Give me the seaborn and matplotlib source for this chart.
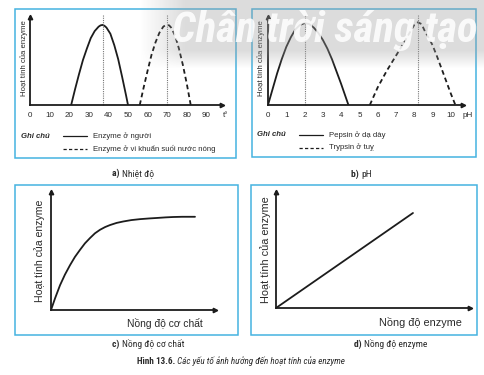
import numpy as np
import pandas as pd
import matplotlib
matplotlib.use("Agg")
import matplotlib.pyplot as plt
import seaborn as sns
from matplotlib.lines import Line2D
from matplotlib.patches import Rectangle
from matplotlib import font_manager as fm

# ---------------- data ----------------
# a) temperature
temp_human_x = [21, 23, 25, 27, 29, 31, 33, 35, 36, 37, 38, 39, 41, 43, 45, 47, 49, 50]
temp_human_y = [0, 0.18, 0.35, 0.51, 0.64, 0.76, 0.84, 0.89, 0.905, 0.91, 0.90, 0.88, 0.81, 0.68, 0.52, 0.32, 0.11, 0]
temp_hot_x = [56, 58, 60, 62, 64, 66, 68, 69, 70, 71, 72, 74, 76, 78, 80, 82]
temp_hot_y = [0, 0.20, 0.39, 0.57, 0.71, 0.82, 0.89, 0.905, 0.91, 0.905, 0.88, 0.79, 0.64, 0.455, 0.24, 0]
temp_optima = [37, 70]
temp_ticks = [0, 10, 20, 30, 40, 50, 60, 70, 80, 90]
temp_unit = "t°"
temp_legend = ["Enzyme ở người", "Enzyme ở vi khuẩn suối nước nóng"]

# b) pH
ph_pepsin_x = [0, 0.25, 0.5, 0.75, 1.0, 1.25, 1.5, 1.75, 2.0, 2.25, 2.5, 2.75, 3.0, 3.25, 3.5, 3.75, 4.0, 4.2, 4.4]
ph_pepsin_y = [0, 0.18, 0.36, 0.52, 0.66, 0.77, 0.86, 0.91, 0.93, 0.92, 0.88, 0.82, 0.74, 0.64, 0.52, 0.38, 0.24, 0.12, 0]
ph_trypsin_x = [5.57, 6.0, 6.5, 7.0, 7.5, 7.8, 8.0, 8.2, 8.4, 8.6, 8.8, 9.0, 9.25, 9.5, 9.75, 10.0, 10.25]
ph_trypsin_y = [0, 0.20, 0.39, 0.56, 0.73, 0.84, 0.91, 0.94, 0.92, 0.83, 0.76, 0.68, 0.55, 0.41, 0.27, 0.13, 0]
ph_optima = [2.0, 8.2]
ph_ticks = [0, 1, 2, 3, 4, 5, 6, 7, 8, 9, 10]
ph_unit = "pH"
ph_legend = ["Pepsin ở dạ dày", "Trypsin ở tuỵ"]

# c) substrate concentration
subs_x = [0, 2.5, 5.5, 8.5, 11.6, 14.6, 17.7, 20.7, 23.8, 26.8, 29.9, 33, 36, 40, 44, 49, 54.3, 60, 64.6, 70, 74.4, 80, 87.8]
subs_y = [0, 10, 21, 30, 38, 45, 51, 56.5, 61, 65, 68, 70.3, 72, 73.8, 75, 76.2, 77, 77.6, 78, 78.5, 78.8, 79, 79]

# d) enzyme concentration
enz_x = [0, 70.6]
enz_y = [0, 81.9]

ylabel_text = "Hoạt tính của enzyme"
xlabel_c = "Nồng độ cơ chất"
xlabel_d = "Nồng độ enzyme"
captions = [("a)", "Nhiệt độ"), ("b)", "pH"), ("c)", "Nồng độ cơ chất"), ("d)", "Nồng độ enzyme")]
fig_title_bold = "Hình 13.6."
fig_title_rest = " Các yếu tố ảnh hưởng đến hoạt tính của enzyme"
watermark = "Chân trời sáng tạo"

# ---------------- style ----------------
sns.set_style("white")
def pick(fams):
    out = []
    for f in fams:
        try:
            fm.findfont(fm.FontProperties(family=f), fallback_to_default=False)
            out.append(f)
        except Exception:
            pass
    return out + ["DejaVu Sans"]

SANS = pick(["Liberation Sans", "Arial"])
NARROW = pick(["Liberation Sans Narrow", "Roboto Condensed", "Liberation Sans"])
plt.rcParams["font.family"] = SANS

W, H = 485, 375
fig = plt.figure(figsize=(W / 100, H / 100), dpi=100)
fig.patch.set_facecolor("white")

INK = "#1c1c1c"
TXT = "#2a2a2a"
BOX = "#45b3e0"


def add_axes_px(l, r, t, b):
    ax = fig.add_axes([l / W, 1 - b / H, (r - l) / W, (b - t) / H])
    ax.set_facecolor("none")
    return ax


def fx(x):
    return x / W


def fy(y):
    return 1 - y / H


def box(l, r, t, b):
    fig.add_artist(Rectangle((fx(l), fy(b)), (r - l) / W, (b - t) / H, transform=fig.transFigure,
                             fill=False, edgecolor=BOX, lw=1.1, zorder=0))


def style_axes(ax, xend, yend, lw=1.3):
    for s in ["top", "right"]:
        ax.spines[s].set_visible(False)
    for s in ["left", "bottom"]:
        ax.spines[s].set_color(INK)
        ax.spines[s].set_linewidth(lw)
    ax.spines["bottom"].set_bounds(ax.get_xlim()[0], xend)
    ax.spines["left"].set_bounds(ax.get_ylim()[0], yend)
    ax.plot([xend], [0], marker=">", color=INK, ms=3.2, clip_on=False, zorder=5)
    ax.plot([0], [yend], marker="^", color=INK, ms=3.2, clip_on=False, zorder=5)


box(15, 236, 9, 158)
box(252, 476, 9, 157)
box(15, 238, 185, 335)
box(251, 477, 185, 335)

# ---------------- a) temperature ----------------
ax = add_axes_px(30, 226, 17, 105)
ax.set_xlim(0, 100)
ax.set_ylim(0, 1)
sns.lineplot(x=temp_human_x, y=temp_human_y, ax=ax, color=INK, lw=1.3, sort=False)
sns.lineplot(x=temp_hot_x, y=temp_hot_y, ax=ax, color=INK, lw=1.3, sort=False, linestyle=(0, (2.6, 1.8)))
for xo in temp_optima:
    ax.plot([xo, xo], [0, 1.02], color="#777777", lw=0.8, ls=(0, (1, 1)), clip_on=False)
ax.set_xticks(temp_ticks)
ax.set_xticklabels([str(t) for t in temp_ticks], fontsize=5.8, color=TXT)
ax.set_yticks([])
ax.tick_params(axis="x", direction="inout", length=4.5, width=1.2, color=INK, pad=2.6)
ax.xaxis.get_major_ticks()[0].tick1line.set_visible(False)
ax.text(100, -0.082, temp_unit, fontsize=5.8, color=TXT, ha="center", va="top", clip_on=False)
ax.set_ylabel(ylabel_text, fontsize=5.6, color=TXT)
ax.yaxis.set_label_coords(-0.012, 0.53)
style_axes(ax, 98, 1.0)


def legend_block(x0, y0, labels, dy=12.5):
    fig.text(fx(x0), fy(y0), "Ghi chú", fontsize=5.6, fontweight="bold", fontstyle="italic",
             color=TXT, va="center", ha="left")
    styles = ["-", (0, (2.6, 1.8))]
    for i, (lab, st) in enumerate(zip(labels, styles)):
        yy = y0 + i * dy
        fig.add_artist(Line2D([fx(x0 + 42), fx(x0 + 66)], [fy(yy), fy(yy)], transform=fig.transFigure,
                              color=INK, lw=0.9, ls=st))
        fig.text(fx(x0 + 72), fy(yy), lab, fontsize=5.6, color=TXT, va="center", ha="left")


legend_block(21, 136, temp_legend)

# ---------------- b) pH ----------------
ax = add_axes_px(268, 470, 17, 105)
ax.set_xlim(0, 11.05)
ax.set_ylim(0, 1)
sns.lineplot(x=ph_pepsin_x, y=ph_pepsin_y, ax=ax, color=INK, lw=1.3, sort=False)
sns.lineplot(x=ph_trypsin_x, y=ph_trypsin_y, ax=ax, color=INK, lw=1.3, sort=False, linestyle=(0, (2.6, 1.8)))
for xo in ph_optima:
    ax.plot([xo, xo], [0, 1.02], color="#777777", lw=0.8, ls=(0, (1, 1)), clip_on=False)
ax.set_xticks(ph_ticks)
ax.set_xticklabels([str(t) for t in ph_ticks], fontsize=5.8, color=TXT)
ax.set_yticks([])
ax.tick_params(axis="x", direction="inout", length=4.5, width=1.2, color=INK, pad=2.6)
ax.xaxis.get_major_ticks()[0].tick1line.set_visible(False)
ax.text(10.9, -0.082, ph_unit, fontsize=5.8, color=TXT, ha="center", va="top", clip_on=False)
ax.set_ylabel(ylabel_text, fontsize=5.6, color=TXT)
ax.yaxis.set_label_coords(-0.015, 0.53)
style_axes(ax, 10.65, 1.0)

legend_block(257, 135, ph_legend)

# ---------------- c) substrate ----------------
ax = add_axes_px(51, 215, 192, 310)
ax.set_xlim(0, 100)
ax.set_ylim(0, 100)
sns.lineplot(x=subs_x, y=subs_y, ax=ax, color=INK, lw=1.3, sort=False)
ax.set_xticks([])
ax.set_yticks([])
ax.set_ylabel(ylabel_text, fontsize=7.6, color=TXT)
ax.yaxis.set_label_coords(-0.035, 0.5)
ax.set_xlabel(xlabel_c, fontsize=7.4, color=TXT)
ax.xaxis.set_label_coords(0.925, -0.07)
ax.xaxis.label.set_ha("right")
ax.xaxis.label.set_va("top")
style_axes(ax, 100, 100)

# ---------------- d) enzyme ----------------
ax = add_axes_px(276, 470, 192, 308)
ax.set_xlim(0, 100)
ax.set_ylim(0, 100)
sns.lineplot(x=enz_x, y=enz_y, ax=ax, color=INK, lw=1.3, sort=False)
ax.set_xticks([])
ax.set_yticks([])
ax.set_ylabel(ylabel_text, fontsize=7.8, color=TXT)
ax.yaxis.set_label_coords(-0.025, 0.5)
ax.set_xlabel(xlabel_d, fontsize=7.8, color=TXT)
ax.xaxis.set_label_coords(0.96, -0.075)
ax.xaxis.label.set_ha("right")
ax.xaxis.label.set_va("top")
style_axes(ax, 100, 100)

# ---------------- captions ----------------
cap_pos = [(122, 176), (361, 177), (122, 347), (364, 347)]
for (b, t), (cx, cy) in zip(captions, cap_pos):
    fig.text(fx(cx), fy(cy), b + " ", fontsize=6.8, fontweight="bold", color=TXT,
             family=NARROW, ha="right", va="baseline")
    fig.text(fx(cx), fy(cy), t, fontsize=6.8, color=TXT, family=NARROW, ha="left", va="baseline")

fig.text(fx(175), fy(364), fig_title_bold, fontsize=6.6, fontweight="bold", color=TXT,
         family=NARROW, ha="right", va="baseline")
fig.text(fx(175), fy(364), fig_title_rest, fontsize=6.6, fontstyle="italic", color=TXT,
         family=NARROW, ha="left", va="baseline")

# ---------------- watermark ----------------
ov = fig.add_axes([0, 0, 1, 1], zorder=20)
ov.axis("off")
band = np.zeros((70, W, 4))
band[..., :3] = 0.62
xs = np.arange(W)
ramp_x = np.clip((xs - 140) / 45.0, 0, 1)
ys = np.arange(70)
ramp_y = np.clip((68 - ys) / 18.0, 0, 1)
band[..., 3] = 0.36 * ramp_y[:, None] * ramp_x[None, :]
ov.imshow(band, extent=(0, W, 70, 0), aspect="auto", interpolation="bilinear", zorder=1)
ov.text(478, 42, watermark, fontsize=31, fontweight="bold", fontstyle="italic", color="white",
        alpha=0.85, family=NARROW, ha="right", va="baseline", zorder=2)
ov.set_xlim(0, W)
ov.set_ylim(H, 0)

fig.savefig("out.png", dpi=100, facecolor="white")
